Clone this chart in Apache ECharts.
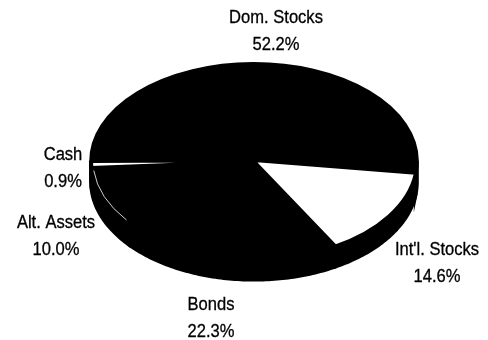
<!DOCTYPE html>
<html>
<head>
<meta charset="utf-8">
<style>html,body{margin:0;padding:0;background:#fff}#c{width:488px;height:340px}</style>
<script src="https://cdn.jsdelivr.net/npm/echarts@6/dist/echarts.min.js"></script>
</head>
<body>
<div id="c"></div>
<script>
// Portfolio allocation, clockwise from the right-hand side of the pie
const categories = ["Int'l. Stocks", "Bonds", "Alt. Assets", "Cash", "Dom. Stocks"];
const shares = [14.6, 22.3, 10.0, 0.9, 52.2];
const fills = ['#fff', '#000', '#000', '#fff', '#000'];

// Tilted pie geometry
const cx = 254, cy = 161, rx = 163, tilt = 0.6, depth = 21, startDeg = 7.5;
// Label centres, in the same order as the categories
const labelX = [437, 211, 56, 63, 276];
const labelY = [264, 319, 237, 169, 32];

const total = shares.reduce((a, b) => a + b, 0);
const rad = d => d * Math.PI / 180;

// Wall of the pie below a stretch of rim, clamped to the visible front half
function wallPoints(a0, a1) {
  const from = Math.max(a0, 0), to = Math.min(a1, 180);
  if (to <= from) return null;
  const top = [], bottom = [];
  const steps = Math.ceil(to - from);
  for (let k = 0; k <= steps; k++) {
    const d = from + (to - from) * k / steps;
    const x = cx + rx * Math.cos(rad(d)), y = cy + rx * tilt * Math.sin(rad(d));
    top.push([x, y]);
    bottom.unshift([x, y + depth]);
  }
  return top.concat(bottom);
}

function renderSlice(params, api) {
  const i = params.dataIndex;
  const before = shares.slice(0, i).reduce((a, b) => a + b, 0);
  const a0 = startDeg + before / total * 360;
  const a1 = a0 + api.value(0) / total * 360;
  const children = [];

  [[a0, a1], [a0 - 360, a1 - 360]].forEach(([s, e]) => {
    const pts = wallPoints(s, e);
    if (pts) children.push({
      type: 'polygon', z2: 1, shape: { points: pts },
      style: { fill: '#000', stroke: '#000', lineWidth: 3.6 }
    });
  });

  children.push({
    type: 'sector', z2: 5 + (fills[i] === '#fff' ? 1 : 0),
    x: cx, y: cy, scaleY: tilt,
    shape: { cx: 0, cy: 0, r0: 0, r: rx, startAngle: rad(a0), endAngle: rad(a1), clockwise: true },
    style: { fill: fills[i], stroke: '#000', lineWidth: shares[i] < 2 ? 4.1 : 3.6, strokeNoScale: true }
  });

  // Fine light rim on the alternative assets slice
  if (categories[i] === 'Alt. Assets') children.push({
    type: 'arc', z2: 7, x: cx, y: cy, scaleY: tilt,
    shape: { cx: 0, cy: 0, r: rx - 2, startAngle: rad(a0 + 2), endAngle: rad(a1 - 2), clockwise: true },
    style: { fill: null, stroke: '#fff', lineWidth: 1, strokeNoScale: true }
  });

  children.push({
    type: 'text', z2: 10, x: labelX[i], y: labelY[i], scaleX: 0.92,
    style: {
      x: 0, y: 0, align: 'center', verticalAlign: 'middle',
      text: categories[i] + '\n' + api.value(0).toFixed(1) + '%',
      font: '18px "Liberation Sans", Arial, sans-serif', lineHeight: 27,
      fill: '#000', stroke: '#000', lineWidth: 0.3
    }
  });
  return { type: 'group', children };
}

const chart = echarts.init(document.getElementById('c'), null, { renderer: 'canvas' });
chart.setOption({
  animation: false,
  backgroundColor: '#fff',
  series: [{
    type: 'custom',
    coordinateSystem: 'none',
    renderItem: renderSlice,
    data: shares.map(v => [v])
  }]
});
</script>
</body>
</html>
